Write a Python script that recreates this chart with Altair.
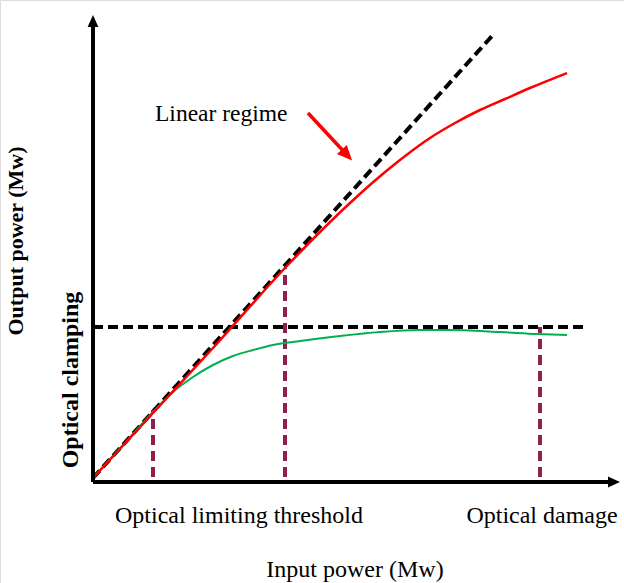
import altair as alt
import pandas as pd

# Schematic values (input power, output power) in arbitrary units
linear_x = [0, 399]
linear_y = [3, 445]

clamp_x = [0, 493]
clamp_y = [154, 154]

red_x = [0, 60, 120, 192, 230, 257, 285, 307, 337, 362, 387, 412, 437, 474]
red_y = [3, 68, 133, 213, 252, 278, 303, 321, 343, 358, 371, 382, 393, 408]

green_x = [0, 30, 60, 80, 100, 120, 140, 160, 180, 207, 247, 287, 327, 354, 407, 444, 474]
green_y = [3, 36, 69, 89, 104, 116, 125, 131, 136, 140, 145, 149, 151, 151, 149, 147, 146]

thr_x = [60, 192, 447]
thr_top = [71, 213, 154]

FONT = "Liberation Serif"
xs = alt.Scale(domain=[-93, 531], range=[0, 624], nice=False, zero=False)
ys = alt.Scale(domain=[-102, 481], range=[583, 0], nice=False, zero=False)


def X(f="x"):
    return alt.X(f"{f}:Q", scale=xs, axis=None)


def Y(f="y"):
    return alt.Y(f"{f}:Q", scale=ys, axis=None)


# axes
yaxis = alt.Chart(pd.DataFrame({"x": [0, 0], "y": [-1, 455]})).mark_line(
    color="black", strokeWidth=4).encode(x=X(), y=Y())
xaxis = alt.Chart(pd.DataFrame({"x": [0, 516], "y": [-1, -1]})).mark_line(
    color="black", strokeWidth=4).encode(x=X(), y=Y())
arrow_path = "M-1,-0.9L1,0L-1,0.9Z"
yhead = alt.Chart(pd.DataFrame({"x": [0], "y": [460]})).mark_point(
    shape=arrow_path, size=144, filled=True, color="black", opacity=1, angle=270
).encode(x=X(), y=Y())
xhead = alt.Chart(pd.DataFrame({"x": [521], "y": [-1]})).mark_point(
    shape=arrow_path, size=144, filled=True, color="black", opacity=1
).encode(x=X(), y=Y())

linear = alt.Chart(pd.DataFrame({"x": linear_x, "y": linear_y})).mark_line(
    color="black", strokeWidth=4, strokeDash=[10, 5]).encode(x=X(), y=Y())
clamp = alt.Chart(pd.DataFrame({"x": clamp_x, "y": clamp_y})).mark_line(
    color="black", strokeWidth=4, strokeDash=[10, 5]).encode(x=X(), y=Y())

red = alt.Chart(pd.DataFrame({"x": red_x, "y": red_y})).mark_line(
    color="#FF0000", strokeWidth=2.5, interpolate="monotone").encode(x=X(), y=Y())
green = alt.Chart(pd.DataFrame({"x": green_x, "y": green_y})).mark_line(
    color="#00B050", strokeWidth=2, interpolate="monotone").encode(x=X(), y=Y())

thr = alt.Chart(pd.DataFrame({"x": thr_x, "y0": [4] * 3, "y1": thr_top})).mark_rule(
    color="#8E1F4E", strokeWidth=4, strokeDash=[10, 6]).encode(
    x=X(), y=Y("y0"), y2="y1:Q")

# red annotation arrow
arr_line = alt.Chart(pd.DataFrame({"x": [215, 254], "y": [368, 326]})).mark_line(
    color="#FF0000", strokeWidth=3.5).encode(x=X(), y=Y())
arr_head = alt.Chart(pd.DataFrame({"x": [254], "y": [326]})).mark_point(
    shape=arrow_path, size=225, filled=True, color="#FF0000", opacity=1, angle=47
).encode(x=X(), y=Y())

labels = pd.DataFrame({
    "x": [62, 146, 449, 262],
    "y": [360, -42, -42, -96],
    "t": ["Linear regime", "Optical limiting threshold", "Optical damage", "Input power (Mw)"],
})
txt_left = alt.Chart(labels.iloc[[0]]).mark_text(
    font=FONT, fontSize=23.5, align="left", baseline="alphabetic", color="black"
).encode(x=X(), y=Y(), text="t:N")
txt_center = alt.Chart(labels.iloc[1:]).mark_text(
    font=FONT, fontSize=24, align="center", baseline="alphabetic", color="black"
).encode(x=X(), y=Y(), text="t:N")

vlabels1 = pd.DataFrame({"x": [-70], "y": [240], "t": ["Output power (Mw)"]})
vlabels2 = pd.DataFrame({"x": [-15], "y": [101], "t": ["Optical clamping"]})
txt_v1 = alt.Chart(vlabels1).mark_text(
    font=FONT, fontSize=22, fontWeight="bold", align="center", baseline="alphabetic",
    angle=270, color="black"
).encode(x=X(), y=Y(), text="t:N")
txt_v2 = alt.Chart(vlabels2).mark_text(
    font=FONT, fontSize=24, fontWeight="bold", align="center", baseline="alphabetic",
    angle=270, color="black"
).encode(x=X(), y=Y(), text="t:N")

chart = alt.layer(
    clamp, linear, thr, green, red, yaxis, xaxis, yhead, xhead,
    arr_line, arr_head, txt_left, txt_center, txt_v1, txt_v2
).properties(
    width=624, height=583, padding=0,
    autosize=alt.AutoSizeParams(type="none"),
).configure_view(stroke=None).configure(background="white")

chart.save("out.html", embed_options={"renderer": "svg", "actions": False})
